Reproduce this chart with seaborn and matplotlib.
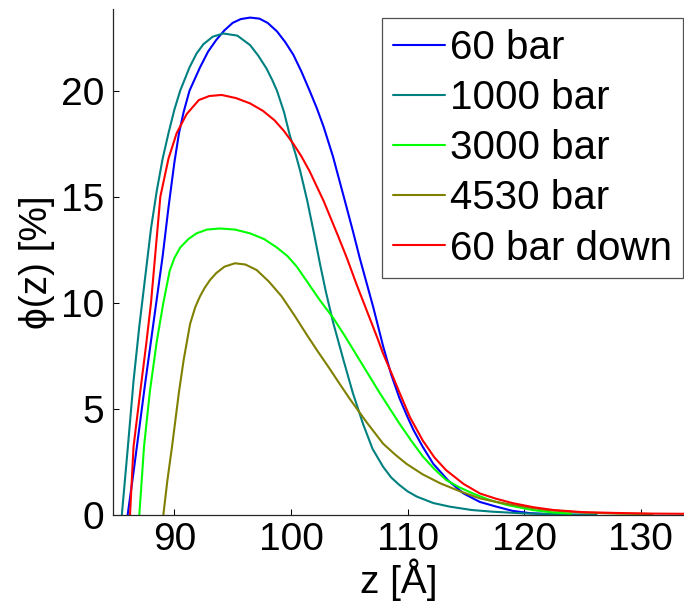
"""
phi(z) 分布曲线 — 不同压力下的 z 剖面
"""

import numpy as np
import pandas as pd
import matplotlib
matplotlib.use("Agg")
import matplotlib.pyplot as plt
import seaborn as sns

# ============================================================
# 数据
# ============================================================
labels = ["60 bar", "1000 bar", "3000 bar", "4530 bar", "60 bar down"]
colors = ["#0000FF", "#008080", "#00FF00", "#808000", "#FF0000"]

z_60 = [86.0, 86.5, 87.0, 87.5, 88.0, 88.5, 89.0, 89.5, 90.0, 90.4, 90.8, 91.3,
        92.2, 92.9, 93.6, 94.3, 95.0, 95.7, 96.5, 97.3, 98.0, 98.8, 99.5, 100.2,
        100.9, 101.6, 102.2, 102.8, 103.6, 104.6, 105.3, 105.9, 106.5, 107.05,
        107.9, 108.6, 109.3, 110.0, 110.5, 111.3, 112.2, 113.5, 114.8, 116.2,
        117.6, 119.0, 120.5, 122.0, 123.0]
phi_60 = [0.0, 2.0, 4.1, 6.2, 8.2, 10.2, 12.2, 14.5, 16.6, 18.0, 19.0, 20.0,
          21.1, 21.85, 22.4, 22.85, 23.2, 23.38, 23.45, 23.4, 23.2, 22.8, 22.3, 21.7,
          20.9, 20.0, 19.2, 18.3, 16.9, 14.85, 13.4, 12.1, 10.9, 9.8,
          7.95, 6.6, 5.5, 4.6, 4.0, 3.2, 2.4, 1.6, 1.0, 0.6,
          0.38, 0.18, 0.07, 0.03, 0.01]

z_1000 = [85.5, 86.0, 86.5, 87.0, 87.5, 88.0, 88.5, 89.0, 89.5, 90.0, 90.5, 91.3,
          91.9, 92.5, 93.3, 94.2, 95.4, 96.5, 97.2, 97.9, 98.4, 98.8, 99.4, 99.9,
          100.4, 100.8, 101.4, 102.0, 102.5, 103.0, 103.6, 104.5, 105.3, 106.2,
          107.0, 107.9, 108.6, 109.3, 110.0, 110.8, 112.2, 113.6, 115.5, 117.3,
          120.0, 123.0, 126.2]
phi_1000 = [0.0, 3.1, 6.3, 8.9, 11.2, 13.5, 15.3, 16.8, 18.0, 19.1, 20.0, 21.1,
            21.75, 22.2, 22.55, 22.7, 22.6, 22.15, 21.65, 21.05, 20.5, 20.0, 19.0, 17.9,
            17.0, 16.2, 14.8, 13.2, 11.8, 10.5, 9.1, 7.3, 5.75, 4.25,
            3.1, 2.26, 1.75, 1.4, 1.1, 0.85, 0.55, 0.38, 0.22, 0.14,
            0.06, 0.02, 0.0]

z_3000 = [87.0, 87.4, 87.9, 88.5, 89.06, 89.6, 90.0, 90.5, 91.2, 91.9, 92.8, 93.9,
          95.2, 96.5, 97.7, 98.8, 99.7, 100.5, 101.5, 102.5, 103.6, 104.6, 105.6,
          106.6, 107.6, 108.5, 109.3, 110.3, 111.3, 112.3, 113.3, 114.4, 115.6,
          117.0, 118.5, 120.7, 122.5, 124.0]
phi_3000 = [0.0, 3.2, 5.8, 8.2, 10.0, 11.5, 12.1, 12.6, 13.0, 13.27, 13.45, 13.5,
            13.45, 13.27, 13.0, 12.6, 12.2, 11.7, 10.9, 10.1, 9.3, 8.45, 7.55,
            6.65, 5.75, 4.98, 4.3, 3.5, 2.75, 2.15, 1.64, 1.3, 1.0,
            0.7, 0.46, 0.22, 0.1, 0.05]

z_4530 = [89.06, 89.4, 89.8, 90.1, 90.4, 90.8, 91.35, 91.8, 92.2, 92.6, 93.06, 93.6,
          94.3, 95.2, 96.1, 97.06, 98.1, 99.2, 100.3, 101.4, 102.3, 103.3, 104.2,
          105.06, 106.5, 107.9, 108.9, 109.9, 111.3, 112.8, 114.5, 116.2, 117.6,
          119.05, 120.5, 121.9, 125.0, 128.0, 131.0]
phi_4530 = [0.0, 1.6, 3.2, 4.5, 5.8, 7.3, 9.0, 9.8, 10.3, 10.7, 11.07, 11.4,
            11.7, 11.86, 11.8, 11.54, 11.0, 10.3, 9.4, 8.45, 7.7, 6.9, 6.15,
            5.45, 4.35, 3.35, 2.85, 2.4, 1.9, 1.48, 1.1, 0.77, 0.6,
            0.46, 0.33, 0.22, 0.1, 0.05, 0.03]

z_down = [86.2, 86.5, 87.1, 87.6, 88.0, 88.4, 88.8, 89.5, 90.2, 91.06, 92.1, 93.0,
          94.06, 95.3, 96.5, 97.6, 98.6, 99.4, 100.2, 100.9, 101.6, 102.2, 102.8,
          103.4, 104.0, 104.8, 105.6, 106.2, 106.8, 107.4, 107.9, 108.6, 109.2,
          110.2, 111.3, 112.3, 113.3, 114.8, 116.2, 117.6, 119.05, 120.8, 122.5,
          125.0, 128.0, 131.0, 134.0]
phi_down = [0.0, 3.2, 5.9, 8.1, 10.0, 12.5, 15.0, 16.8, 18.0, 18.9, 19.56, 19.75,
            19.8, 19.65, 19.4, 19.05, 18.6, 18.1, 17.5, 16.9, 16.2, 15.5, 14.8,
            14.0, 13.2, 12.1, 10.9, 10.05, 9.2, 8.35, 7.6, 6.7, 5.9,
            4.6, 3.5, 2.7, 2.1, 1.45, 1.0, 0.75, 0.54, 0.35, 0.22,
            0.12, 0.08, 0.05, 0.04]

z_series = [z_60, z_1000, z_3000, z_4530, z_down]
phi_series = [phi_60, phi_1000, phi_3000, phi_4530, phi_down]

x_ticks = [90, 100, 110, 120, 130]
y_ticks = [0, 5, 10, 15, 20]

# 长表
df = pd.concat(
    [pd.DataFrame({"z": z, "phi": p, "series": lab})
     for z, p, lab in zip(z_series, phi_series, labels)],
    ignore_index=True)

# ============================================================
# 画图
# ============================================================
sns.set_theme(style="white", rc={"text.color": "black", "axes.labelcolor": "black",
                                 "xtick.color": "black", "ytick.color": "black"})
plt.rcParams["font.family"] = ["Liberation Sans", "DejaVu Sans"]

FS = 28

fig = plt.figure(figsize=(6.84, 6.05), dpi=100)
ax = fig.add_axes([0.1657, 0.1493, 1.0 - 0.1657, 0.9846 - 0.1493])

sns.lineplot(data=df, x="z", y="phi", hue="series", hue_order=labels,
             palette=dict(zip(labels, colors)), estimator=None, sort=True,
             linewidth=1.5, ax=ax)

ax.set_xlim(84.77, 133.7)
ax.set_ylim(0, 23.84)
ax.set_xticks(x_ticks)
ax.set_yticks(y_ticks)
ax.tick_params(direction="in", length=4.3, width=0.75, labelsize=FS,
               bottom=True, left=True)
ax.tick_params(axis="x", pad=5.5)
ax.tick_params(axis="y", pad=6.5)

for side in ["top", "right"]:
    ax.spines[side].set_visible(False)
for side in ["left", "bottom"]:
    ax.spines[side].set_color("#262626")
    ax.spines[side].set_linewidth(0.9)

ax.set_xlabel("z [Å]", fontsize=FS, labelpad=0)
ax.set_ylabel("ϕ(z) [%]", fontsize=FS, labelpad=4)

leg = ax.legend(loc="upper right", bbox_to_anchor=(683 / 684, 1 - 18.3 / 605),
                bbox_transform=fig.transFigure, fontsize=29, frameon=True,
                fancybox=False, edgecolor="#262626", handlelength=1.29,
                handletextpad=0.12, labelspacing=0.30, borderpad=0.27,
                borderaxespad=0)
leg.get_frame().set_linewidth(0.9)
for line in leg.get_lines():
    line.set_linewidth(1.5)

fig.savefig("out.png", dpi=100)
